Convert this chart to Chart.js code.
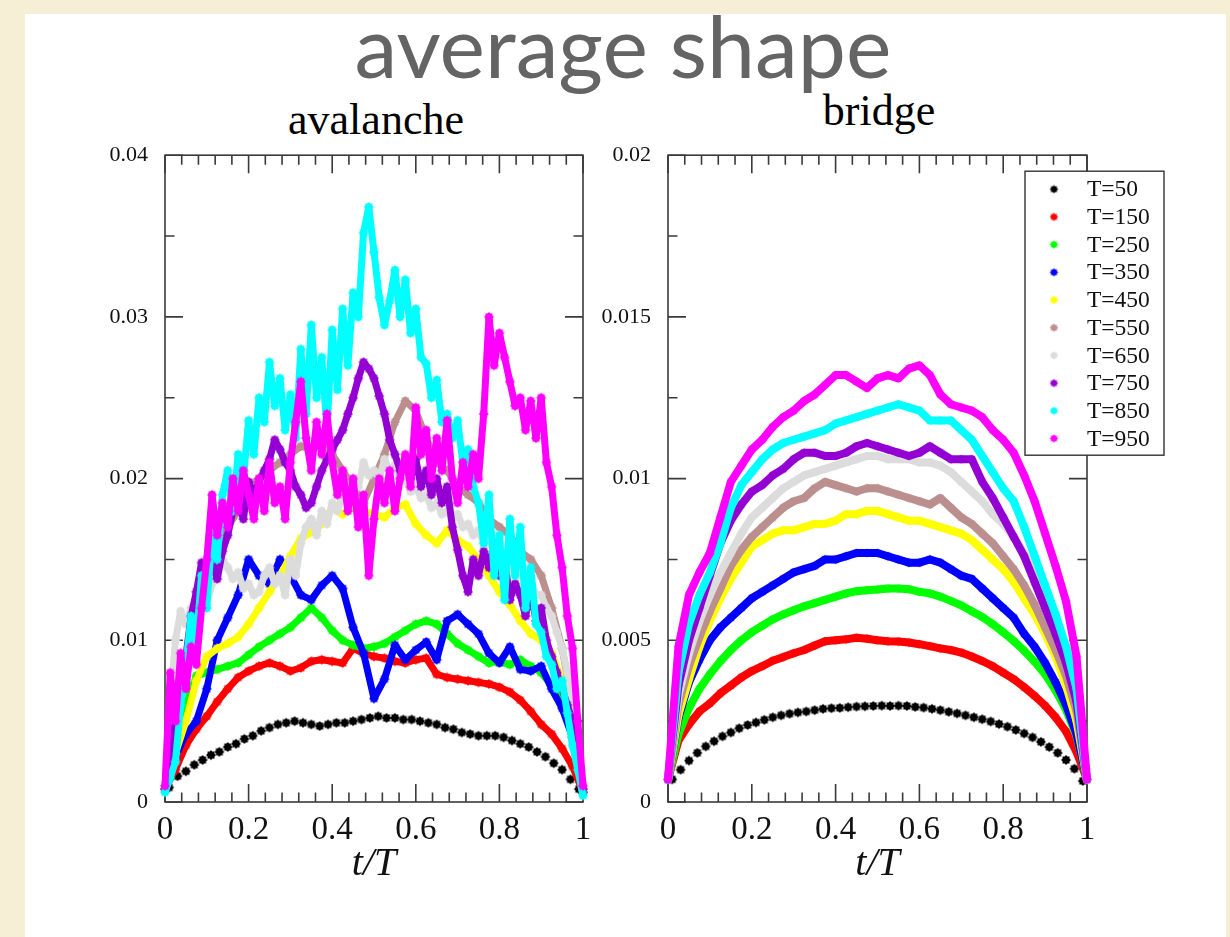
<!DOCTYPE html>
<html>
<head>
<meta charset="utf-8">
<script src="https://cdn.jsdelivr.net/npm/chart.js@4.4.1/dist/chart.umd.min.js"></script>
<style>
  html, body { margin: 0; padding: 0; }
  body { width: 1230px; height: 937px; background: #f7efd5; position: relative; overflow: hidden; }
  #card { position: absolute; left: 25px; top: 14px; width: 1201px; height: 940px; background: #fff; }
  #title { position: absolute; left: 323px; width: 600px; top: 2px; text-align: center;
           font-family: Lato, sans-serif; font-size: 86px; line-height: 1; color: #646464; }
  .sub { position: absolute; width: 400px; text-align: center; font-family: "Liberation Serif", serif;
         font-size: 44px; line-height: 1; color: #000; }
  canvas { position: absolute; }
</style>
</head>
<body>
<div id="card"></div>
<div id="title">average shape</div>
<div class="sub" style="left:176px; top:98px;">avalanche</div>
<div class="sub" style="left:679px; top:89px;">bridge</div>
<canvas id="cAval" width="580" height="760" style="left:40px; top:133px;"></canvas>
<canvas id="cBridge" width="580" height="760" style="left:600px; top:133px;"></canvas>
<script>
// ---- data ----
const durations = [50, 150, 250, 350, 450, 550, 650, 750, 850, 950];

const tGrid = [0, 0.025, 0.05, 0.075, 0.1, 0.125, 0.15, 0.175, 0.2, 0.225, 0.25, 0.275, 0.3, 0.325, 0.35,
  0.375, 0.4, 0.425, 0.45, 0.475, 0.5, 0.525, 0.55, 0.575, 0.6, 0.625, 0.65, 0.675, 0.7, 0.725, 0.75,
  0.775, 0.8, 0.825, 0.85, 0.875, 0.9, 0.925, 0.95, 0.975, 1];
const tGrid50 = [0.01, 0.03, 0.05, 0.07, 0.09, 0.11, 0.13, 0.15, 0.17, 0.19, 0.21, 0.23, 0.25, 0.27, 0.29,
  0.31, 0.33, 0.35, 0.37, 0.39, 0.41, 0.43, 0.45, 0.47, 0.49, 0.51, 0.53, 0.55, 0.57, 0.59, 0.61, 0.63,
  0.65, 0.67, 0.69, 0.71, 0.73, 0.75, 0.77, 0.79, 0.81, 0.83, 0.85, 0.87, 0.89, 0.91, 0.93, 0.95, 0.97, 0.99];
const tGrid81 = [0, 0.0125, 0.025, 0.0375, 0.05, 0.0625, 0.075, 0.0875, 0.1, 0.1125, 0.125, 0.1375,
  0.15, 0.1625, 0.175, 0.1875, 0.2, 0.2125, 0.225, 0.2375, 0.25, 0.2625, 0.275, 0.2875, 0.3, 0.3125,
  0.325, 0.3375, 0.35, 0.3625, 0.375, 0.3875, 0.4, 0.4125, 0.425, 0.4375, 0.45, 0.4625, 0.475, 0.4875,
  0.5, 0.5125, 0.525, 0.5375, 0.55, 0.5625, 0.575, 0.5875, 0.6, 0.6125, 0.625, 0.6375, 0.65, 0.6625,
  0.675, 0.6875, 0.7, 0.7125, 0.725, 0.7375, 0.75, 0.7625, 0.775, 0.7875, 0.8, 0.8125, 0.825, 0.8375,
  0.85, 0.8625, 0.875, 0.8875, 0.9, 0.9125, 0.925, 0.9375, 0.95, 0.9625, 0.975, 0.9875, 1];

const xTickLabels = ['0', '0.2', '0.4', '0.6', '0.8', '1'];
const avalYTickLabels = ['0', '0.01', '0.02', '0.03', '0.04'];
const bridgeYTickLabels = ['0', '0.005', '0.01', '0.015', '0.02'];

// avalanche panel
const avT50 = [0.0009, 0.0016, 0.0019, 0.0023, 0.0026, 0.0029, 0.0031, 0.0034, 0.0036, 0.0039,
  0.0041, 0.0044, 0.0046, 0.0048, 0.0049, 0.0050, 0.0049, 0.0048, 0.0047, 0.0048,
  0.0049, 0.0049, 0.0050, 0.0051, 0.0052, 0.0053, 0.0052, 0.0052, 0.0051, 0.0051,
  0.0050, 0.0049, 0.0048, 0.0046, 0.0045, 0.0043, 0.0042, 0.0041, 0.0041, 0.0041,
  0.0040, 0.0038, 0.0036, 0.0034, 0.0031, 0.0028, 0.0024, 0.0020, 0.0014, 0.0008];
const avT150 = [0.0008, 0.0020, 0.0035, 0.0045, 0.0053, 0.0062, 0.0070, 0.0077, 0.0081, 0.0084,
  0.0086, 0.0084, 0.0081, 0.0083, 0.0087, 0.0088, 0.0087, 0.0086, 0.0095, 0.0092,
  0.0090, 0.0089, 0.0087, 0.0086, 0.0088, 0.0089, 0.0079, 0.0077, 0.0076, 0.0075,
  0.0074, 0.0073, 0.0071, 0.0068, 0.0063, 0.0056, 0.0048, 0.0042, 0.0033, 0.0022, 0.0006];
const avT250 = [0.0008, 0.0030, 0.0060, 0.0078, 0.0080, 0.0082, 0.0084, 0.0086, 0.0091, 0.0096,
  0.0100, 0.0104, 0.0108, 0.0114, 0.0120, 0.0114, 0.0106, 0.0100, 0.0097, 0.0095,
  0.0096, 0.0098, 0.0102, 0.0106, 0.0110, 0.0112, 0.0110, 0.0104, 0.0098, 0.0094,
  0.0090, 0.0086, 0.0087, 0.0085, 0.0088, 0.0084, 0.0080, 0.0072, 0.0062, 0.0040, 0.0008];
const avT350 = [0.0008, 0.0028, 0.0042, 0.0050, 0.0070, 0.0100, 0.0114, 0.0128, 0.0150, 0.0140,
  0.0135, 0.0150, 0.0140, 0.0128, 0.0125, 0.0134, 0.0140, 0.0132, 0.0108, 0.0092,
  0.0064, 0.0076, 0.0097, 0.0088, 0.0094, 0.0099, 0.0088, 0.0112, 0.0116, 0.0110,
  0.0104, 0.0092, 0.0086, 0.0096, 0.0082, 0.0081, 0.0084, 0.0070, 0.0058, 0.0040, 0.0006];
const avT450 = [0.0008, 0.0030, 0.0050, 0.0075, 0.0090, 0.0095, 0.0098, 0.0102, 0.0110, 0.0120,
  0.0130, 0.0140, 0.0152, 0.0163, 0.0167, 0.0172, 0.0182, 0.0178, 0.0182, 0.0180,
  0.0178, 0.0176, 0.0182, 0.0184, 0.0172, 0.0165, 0.0160, 0.0168, 0.0162, 0.0158,
  0.0150, 0.0140, 0.0130, 0.0122, 0.0112, 0.0104, 0.0100, 0.0092, 0.0075, 0.0050, 0.0008];
const avT550 = [0.0008, 0.0060, 0.0090, 0.0110, 0.0140, 0.0160, 0.0170, 0.0180, 0.0195, 0.0200,
  0.0205, 0.0210, 0.0215, 0.0220, 0.0218, 0.0222, 0.0215, 0.0205, 0.0195, 0.0185,
  0.0200, 0.0215, 0.0235, 0.0248, 0.0242, 0.0225, 0.0210, 0.0205, 0.0195, 0.0190,
  0.0185, 0.0175, 0.0170, 0.0165, 0.0155, 0.0150, 0.0140, 0.0120, 0.0095, 0.0060, 0.0008];
const avT650 = [0.0008, 0.0060, 0.0100, 0.0118, 0.0110, 0.0120, 0.0112, 0.0125, 0.0122, 0.0135,
  0.0140, 0.0150, 0.0145, 0.0138, 0.0142, 0.0132, 0.0135, 0.0128, 0.0130, 0.0140,
  0.0145, 0.0135, 0.0140, 0.0128, 0.0150, 0.0140, 0.0160, 0.0170, 0.0175, 0.0165,
  0.0180, 0.0172, 0.0185, 0.0180, 0.0190, 0.0187, 0.0200, 0.0195, 0.0210, 0.0202,
  0.0205, 0.0200, 0.0212, 0.0205, 0.0208, 0.0198, 0.0200, 0.0192, 0.0195, 0.0188,
  0.0190, 0.0182, 0.0185, 0.0178, 0.0180, 0.0175, 0.0178, 0.0170, 0.0172, 0.0165,
  0.0168, 0.0160, 0.0162, 0.0155, 0.0160, 0.0150, 0.0150, 0.0142, 0.0148, 0.0135,
  0.0138, 0.0128, 0.0128, 0.0120, 0.0115, 0.0105, 0.0095, 0.0080, 0.0060, 0.0035, 0.0008];
const avT750 = [0.0008, 0.0030, 0.0050, 0.0075, 0.0090, 0.0115, 0.0130, 0.0148, 0.0140, 0.0148,
  0.0138, 0.0155, 0.0165, 0.0180, 0.0185, 0.0175, 0.0198, 0.0190, 0.0198, 0.0205,
  0.0212, 0.0224, 0.0218, 0.0210, 0.0205, 0.0195, 0.0190, 0.0182, 0.0185, 0.0195,
  0.0205, 0.0212, 0.0218, 0.0224, 0.0230, 0.0240, 0.0250, 0.0262, 0.0272, 0.0268,
  0.0262, 0.0251, 0.0240, 0.0224, 0.0215, 0.0205, 0.0210, 0.0200, 0.0212, 0.0195,
  0.0205, 0.0190, 0.0200, 0.0185, 0.0195, 0.0170, 0.0156, 0.0140, 0.0130, 0.0150,
  0.0140, 0.0155, 0.0145, 0.0160, 0.0140, 0.0150, 0.0125, 0.0135, 0.0128, 0.0115,
  0.0131, 0.0112, 0.0120, 0.0100, 0.0090, 0.0080, 0.0070, 0.0060, 0.0050, 0.0030, 0.0008];
const avT850 = [0.0006, 0.0015, 0.0025, 0.0060, 0.0085, 0.0115, 0.0100, 0.0140, 0.0120, 0.0165,
  0.0150, 0.0190, 0.0205, 0.0180, 0.0215, 0.0200, 0.0236, 0.0215, 0.0250, 0.0235,
  0.0272, 0.0245, 0.0262, 0.0230, 0.0252, 0.0225, 0.0280, 0.0240, 0.0295, 0.0250,
  0.0275, 0.0230, 0.0292, 0.0255, 0.0305, 0.0270, 0.0315, 0.0300, 0.0352, 0.0368,
  0.0340, 0.0312, 0.0295, 0.0310, 0.0329, 0.0300, 0.0323, 0.0290, 0.0305, 0.0275,
  0.0271, 0.0250, 0.0261, 0.0235, 0.0240, 0.0225, 0.0236, 0.0210, 0.0218, 0.0195,
  0.0185, 0.0160, 0.0190, 0.0140, 0.0165, 0.0125, 0.0175, 0.0140, 0.0170, 0.0120,
  0.0145, 0.0110, 0.0105, 0.0090, 0.0085, 0.0070, 0.0075, 0.0055, 0.0035, 0.0020, 0.0004];
const avT950 = [0.0010, 0.0080, 0.0050, 0.0092, 0.0070, 0.0096, 0.0085, 0.0120, 0.0150, 0.0190,
  0.0165, 0.0185, 0.0170, 0.0200, 0.0180, 0.0205, 0.0190, 0.0175, 0.0200, 0.0180,
  0.0210, 0.0185, 0.0195, 0.0175, 0.0210, 0.0235, 0.0260, 0.0225, 0.0205, 0.0235,
  0.0215, 0.0240, 0.0210, 0.0190, 0.0205, 0.0180, 0.0200, 0.0170, 0.0190, 0.0140,
  0.0175, 0.0200, 0.0185, 0.0205, 0.0180, 0.0200, 0.0215, 0.0195, 0.0244, 0.0215,
  0.0230, 0.0200, 0.0225, 0.0205, 0.0236, 0.0200, 0.0185, 0.0210, 0.0195, 0.0215,
  0.0200, 0.0240, 0.0300, 0.0270, 0.0290, 0.0275, 0.0260, 0.0245, 0.0250, 0.0230,
  0.0248, 0.0225, 0.0250, 0.0210, 0.0195, 0.0165, 0.0145, 0.0115, 0.0095, 0.0050, 0.0010];

// bridge panel
const brT50 = [0.0007, 0.0010, 0.00128, 0.00152, 0.00172, 0.00188, 0.00203, 0.00215, 0.00228, 0.00238,
  0.00246, 0.00254, 0.00262, 0.00268, 0.00273, 0.00277, 0.00280, 0.00284, 0.00288, 0.00290,
  0.00291, 0.00293, 0.00295, 0.00296, 0.00297, 0.00298, 0.00297, 0.00298, 0.00297, 0.00294,
  0.00292, 0.00288, 0.00284, 0.00279, 0.00274, 0.00268, 0.00262, 0.00256, 0.00249, 0.00241,
  0.00233, 0.00223, 0.00212, 0.00200, 0.00186, 0.00170, 0.00152, 0.00130, 0.00103, 0.00065];
const brT150 = [0.0007, 0.0019, 0.0024, 0.0028, 0.00305, 0.00336, 0.00360, 0.00385, 0.00405, 0.00420,
  0.00437, 0.00448, 0.00460, 0.00470, 0.00484, 0.00497, 0.00500, 0.00503, 0.00508, 0.00505,
  0.00500, 0.00497, 0.00496, 0.00493, 0.00488, 0.00482, 0.00475, 0.00470, 0.00462, 0.00450,
  0.00436, 0.00420, 0.00400, 0.00380, 0.00355, 0.00328, 0.00298, 0.00262, 0.00218, 0.00155, 0.0007];
const brT250 = [0.0007, 0.0021, 0.0029, 0.00350, 0.00395, 0.00435, 0.00470, 0.00500, 0.00525, 0.00545,
  0.00565, 0.00580, 0.00593, 0.00605, 0.00615, 0.00625, 0.00635, 0.00645, 0.00652, 0.00655,
  0.00657, 0.00660, 0.00660, 0.00658, 0.00650, 0.00645, 0.00635, 0.00622, 0.00608, 0.00590,
  0.00572, 0.00550, 0.00525, 0.00498, 0.00468, 0.00434, 0.00395, 0.00345, 0.00285, 0.00205, 0.0007];
const brT350 = [0.0007, 0.0026, 0.0037, 0.0044, 0.0050, 0.0054, 0.0057, 0.0060, 0.0063, 0.0065,
  0.0067, 0.0069, 0.0071, 0.0072, 0.0073, 0.0075, 0.0075, 0.0076, 0.0077, 0.0077,
  0.0077, 0.0076, 0.0075, 0.0074, 0.0074, 0.0075, 0.0074, 0.0072, 0.0070, 0.0069,
  0.0066, 0.0063, 0.0060, 0.0057, 0.0052, 0.0048, 0.0043, 0.0037, 0.0030, 0.0021, 0.0007];
const brT450 = [0.0007, 0.0027, 0.0038, 0.0048, 0.0056, 0.0063, 0.0069, 0.0074, 0.0079, 0.0081,
  0.0083, 0.0084, 0.0084, 0.0085, 0.0086, 0.0086, 0.0087, 0.0089, 0.0089, 0.0090,
  0.0090, 0.0089, 0.0088, 0.0087, 0.0087, 0.0086, 0.0085, 0.0084, 0.0083, 0.0081,
  0.0078, 0.0075, 0.0072, 0.0068, 0.0063, 0.0058, 0.0052, 0.0045, 0.0036, 0.0025, 0.0007];
const brT550 = [0.0007, 0.0030, 0.0042, 0.0051, 0.0059, 0.0066, 0.0073, 0.0078, 0.0082, 0.0085,
  0.0088, 0.0091, 0.0093, 0.0094, 0.0097, 0.0099, 0.0098, 0.0097, 0.0096, 0.0097,
  0.0097, 0.0096, 0.0095, 0.0094, 0.0093, 0.0092, 0.0094, 0.0091, 0.0088, 0.0086,
  0.0083, 0.0080, 0.0076, 0.0072, 0.0067, 0.0061, 0.0054, 0.0047, 0.0039, 0.0028, 0.0007];
const brT650 = [0.0007, 0.0033, 0.0046, 0.0056, 0.0064, 0.0071, 0.0077, 0.0083, 0.0088, 0.0091,
  0.0094, 0.0097, 0.0099, 0.0101, 0.0102, 0.0103, 0.0104, 0.0105, 0.0106, 0.0107,
  0.0107, 0.0106, 0.0106, 0.0106, 0.0105, 0.0105, 0.0104, 0.0102, 0.0099, 0.0096,
  0.0093, 0.0089, 0.0086, 0.0082, 0.0077, 0.0070, 0.0062, 0.0054, 0.0045, 0.0032, 0.0007];
const brT750 = [0.0007, 0.0036, 0.0050, 0.0060, 0.0070, 0.0080, 0.0087, 0.0092, 0.0096, 0.0098,
  0.0101, 0.0103, 0.0106, 0.0108, 0.0108, 0.0107, 0.0107, 0.0108, 0.0110, 0.0111,
  0.0110, 0.0109, 0.0108, 0.0107, 0.0108, 0.0110, 0.0108, 0.0106, 0.0106, 0.0106,
  0.0099, 0.0094, 0.0088, 0.0082, 0.0076, 0.0068, 0.0060, 0.0052, 0.0043, 0.0031, 0.0007];
const brT850 = [0.0007, 0.0040, 0.0055, 0.0064, 0.0071, 0.0080, 0.0091, 0.0098, 0.0102, 0.0106,
  0.0109, 0.0111, 0.0112, 0.0113, 0.0114, 0.0115, 0.0117, 0.0118, 0.0119, 0.0120,
  0.0121, 0.0122, 0.0123, 0.0122, 0.0121, 0.0118, 0.0118, 0.0118, 0.0115, 0.0112,
  0.0107, 0.0102, 0.0097, 0.0093, 0.0085, 0.0076, 0.0067, 0.0058, 0.0048, 0.0035, 0.0007];
const brT950 = [0.0007, 0.0048, 0.0064, 0.0071, 0.0077, 0.0088, 0.0099, 0.0104, 0.0109, 0.0112,
  0.0116, 0.0119, 0.0121, 0.0124, 0.0126, 0.0129, 0.0132, 0.0132, 0.0130, 0.0128,
  0.0131, 0.0132, 0.0131, 0.0134, 0.0135, 0.0132, 0.0126, 0.0123, 0.0122, 0.0121,
  0.0119, 0.0115, 0.0112, 0.0108, 0.0101, 0.0093, 0.0083, 0.0073, 0.0062, 0.0045, 0.0007];

const avalSeries = [avT50, avT150, avT250, avT350, avT450, avT550, avT650, avT750, avT850, avT950];
const avalTimes = [tGrid50, tGrid, tGrid, tGrid, tGrid, tGrid, tGrid81, tGrid81, tGrid81, tGrid81];
const bridgeSeries = [brT50, brT150, brT250, brT350, brT450, brT550, brT650, brT750, brT850, brT950];
const bridgeTimes = [tGrid50, tGrid, tGrid, tGrid, tGrid, tGrid, tGrid, tGrid, tGrid, tGrid];

// ---- styling ----
const setColors = ['#000000', '#ff0000', '#00ff00', '#0000ff', '#ffff00',
                   '#bc8f8f', '#dcdcdc', '#9400d3', '#00ffff', '#ff00ff'];
const SERIF = '"Liberation Serif", "Times New Roman", serif';

// filled star-burst marker, like the grace symbols in the original
function starMarker(color, r) {
  const c = document.createElement('canvas');
  const s = Math.ceil(r * 2 + 2);
  c.width = s; c.height = s;
  const g = c.getContext('2d');
  g.translate(s / 2, s / 2);
  g.fillStyle = color;
  g.beginPath();
  for (let k = 0; k < 16; k++) {
    const rr = k % 2 ? r * 0.74 : r;
    const a = Math.PI * k / 8;
    g.lineTo(rr * Math.cos(a), rr * Math.sin(a));
  }
  g.closePath();
  g.fill();
  return c;
}

// frame with inward ticks on all four sides
const frameTicks = {
  id: 'frameTicks',
  beforeDatasetsDraw(chart, args, opts) {
    const { ctx, chartArea: a } = chart;
    const xs = chart.scales.x, ys = chart.scales.y;
    ctx.save();
    ctx.strokeStyle = '#3a3a3a';
    ctx.lineWidth = 1.6;
    ctx.strokeRect(a.left, a.top, a.right - a.left, a.bottom - a.top);
    ctx.beginPath();
    for (let k = 0; k <= 25; k++) {
      const px = xs.getPixelForValue(k * 0.04);
      const len = k % 5 === 0 ? 18 : 9.5;
      ctx.moveTo(px, a.bottom); ctx.lineTo(px, a.bottom - len);
      ctx.moveTo(px, a.top); ctx.lineTo(px, a.top + len);
    }
    for (let k = 0; k <= 8; k++) {
      const py = ys.getPixelForValue(k * opts.yMinor);
      const len = k % 2 === 0 ? 18 : 9.5;
      ctx.moveTo(a.left, py); ctx.lineTo(a.left + len, py);
      ctx.moveTo(a.right, py); ctx.lineTo(a.right - len, py);
    }
    ctx.stroke();
    ctx.restore();
  }
};

// boxed legend inside the bridge panel
const boxLegend = {
  id: 'boxLegend',
  afterDraw(chart) {
    const { ctx, chartArea: a } = chart;
    const x0 = a.right - 62, y0 = a.top + 16, w = 139, h = 284;
    ctx.save();
    ctx.fillStyle = '#fff';
    ctx.fillRect(x0, y0, w, h);
    ctx.strokeStyle = '#333';
    ctx.lineWidth = 1.4;
    ctx.strokeRect(x0, y0, w, h);
    ctx.font = '23.5px ' + SERIF;
    ctx.textBaseline = 'middle';
    ctx.fillStyle = '#111';
    chart.data.datasets.forEach((ds, i) => {
      const yy = y0 + 18 + i * 27.7;
      const m = starMarker(setColors[i], 4.2);
      ctx.drawImage(m, x0 + 29 - m.width / 2, yy - m.height / 2);
      ctx.fillText(ds.label, x0 + 62, yy + 1);
    });
    ctx.restore();
  }
};

function buildDatasets(series, times, lineW, markR) {
  return series.map((vals, i) => ({
    label: 'T=' + durations[i],
    data: vals.map((v, j) => ({ x: times[i][j], y: v })),
    showLine: i > 0,
    borderColor: setColors[i],
    backgroundColor: setColors[i],
    borderWidth: lineW,
    borderJoinStyle: 'round',
    borderCapStyle: 'round',
    pointStyle: starMarker(setColors[i], i === 0 ? 5 : markR),
    pointRadius: 4,
    clip: false,
    order: 9 - i
  }));
}

function makePanel(canvasId, series, times, yMax, yStep, yLabels, yWidth, padRight, lineW, markR, extra) {
  return new Chart(document.getElementById(canvasId), {
    type: 'scatter',
    data: { datasets: buildDatasets(series, times, lineW, markR) },
    options: {
      responsive: false, animation: false, devicePixelRatio: 1,
      layout: { padding: { top: 8, right: padRight, left: 0, bottom: 0 } },
      plugins: { legend: { display: false }, tooltip: { enabled: false }, frameTicks: { yMinor: yStep / 2 } },
      scales: {
        x: {
          type: 'linear', min: 0, max: 1,
          afterFit: s => { s.height = 91; },
          grid: { display: false }, border: { display: false },
          ticks: {
            stepSize: 0.2, autoSkip: false, maxRotation: 0, padding: 1, color: '#111',
            font: { family: SERIF, size: 33 },
            callback: v => xTickLabels[Math.round(v / 0.2)]
          },
          title: {
            display: true, text: 't/T', color: '#111',
            font: { family: SERIF, style: 'italic', size: 40 },
            padding: { top: 0, bottom: 5 }
          }
        },
        y: {
          type: 'linear', min: 0, max: yMax,
          afterFit: s => { s.width = yWidth; },
          grid: { display: false }, border: { display: false },
          ticks: {
            stepSize: yStep, padding: 9, color: '#111',
            font: { family: SERIF, size: 22 },
            callback: v => yLabels[Math.round(v / yStep)]
          }
        }
      }
    },
    plugins: [frameTicks].concat(extra)
  });
}

makePanel('cAval', avalSeries, avalTimes, 0.04, 0.01, avalYTickLabels, 125, 37, 7, 5, []);
makePanel('cBridge', bridgeSeries, bridgeTimes, 0.02, 0.005, bridgeYTickLabels, 68, 93, 8, 4.6, [boxLegend]);
</script>
</body>
</html>
